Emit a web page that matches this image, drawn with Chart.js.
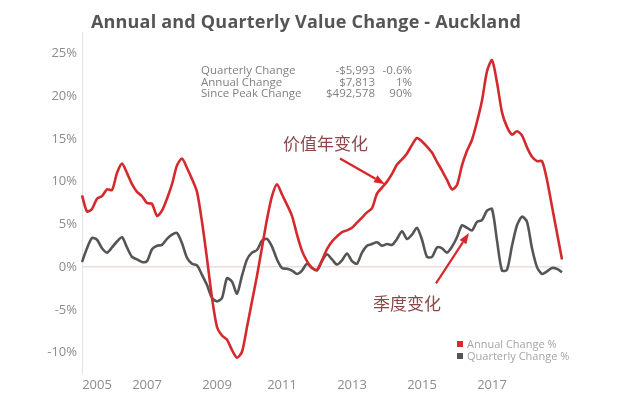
<!DOCTYPE html>
<html>
<head>
<meta charset="utf-8">
<script src="https://cdn.jsdelivr.net/npm/chart.js@4.4.1/dist/chart.umd.min.js"></script>
<style>
  body { margin: 0; background: #fff; }
  #wrap { position: relative; width: 640px; height: 412px; overflow: hidden; font-family: "Open Sans", sans-serif; }
  #title { position: absolute; left: 0; top: 9px; width: 612px; text-align: center; font-size: 18px; font-weight: 700; color: #555; letter-spacing: 0.2px; }
  #info { position: absolute; left: 201px; top: 64px; font-size: 11.5px; line-height: 11.7px; color: #808080; }
  #info .row { display: flex; }
  #info .c1 { width: 120px; }
  #info .c2 { width: 54px; text-align: right; }
  #info .c3 { width: 37px; text-align: right; }
  #legend { position: absolute; left: 457px; top: 338px; font-size: 11px; line-height: 11.5px; color: #a5a5a5; }
  #legend .sw { display: inline-block; width: 6px; height: 6px; margin-right: 4px; vertical-align: 1px; }
  .note { position: absolute; font-family: "Noto Sans CJK SC", sans-serif; font-size: 17px; line-height: 17px; color: #8a4848; }
</style>
</head>
<body>
<div id="wrap">
  <canvas id="chart" width="640" height="412"></canvas>
  <div id="title">Annual and Quarterly Value Change - Auckland</div>
  <div id="info">
    <div class="row"><span class="c1">Quarterly Change</span><span class="c2">-$5,993</span><span class="c3">-0.6%</span></div>
    <div class="row"><span class="c1">Annual Change</span><span class="c2">$7,813</span><span class="c3">1%</span></div>
    <div class="row"><span class="c1">Since Peak Change</span><span class="c2">$492,578</span><span class="c3">90%</span></div>
  </div>
  <div id="legend">
    <div><span class="sw" style="background:#d42a2e"></span>Annual Change %</div>
    <div><span class="sw" style="background:#555"></span>Quarterly Change %</div>
  </div>
  <div class="note" style="left:283px; top:134px;">价值年变化</div>
  <div class="note" style="left:373px; top:294px;">季度变化</div>
</div>
<script>
// 年份刻度（标在对应的样本序号上）
const yearTicks = ['2005', '2007', '2009', '2011', '2013', '2015', '2017'];
const yearTickAt = [3, 13, 27, 40, 54, 68, 82];

// 纵轴刻度 %
const yTicks = [-10, -5, 0, 5, 10, 15, 20, 25];

// 年度变化 %
const annualChange = [
    8.4, 6.5, 6.8, 8.0, 8.3, 9.1, 9.0, 11.0, 12.1, 11.0,
    9.7, 8.8, 8.3, 7.5, 7.4, 6.0, 6.6, 8.0, 9.7, 11.9,
    12.7, 11.6, 10.3, 8.8, 5.3, 1.0, -3.6, -7.0, -8.0, -8.5,
    -9.7, -10.6, -9.9, -7.0, -4.0, -1.0, 2.3, 5.6, 8.3, 9.7,
    8.5, 7.3, 6.0, 3.8, 1.9, 0.7, -0.1, -0.3, 0.8, 2.1,
    3.0, 3.6, 4.1, 4.3, 4.6, 5.2, 5.8, 6.4, 6.9, 8.6,
    9.3, 10.0, 10.9, 12.0, 12.6, 13.3, 14.3, 15.1, 14.7, 14.1,
    13.4, 12.3, 11.3, 10.2, 9.1, 9.6, 11.9, 13.6, 14.9, 17.0,
    19.5, 22.9, 24.2, 21.6, 18.1, 16.4, 15.5, 15.9, 15.4, 14.0,
    12.9, 12.4, 12.4, 10.2, 7.1, 4.0, 0.9
];

// 季度变化 %
const quarterlyChange = [
    0.6, 2.2, 3.4, 3.2, 2.2, 1.7, 2.3, 3.0, 3.5, 2.3,
    1.2, 0.9, 0.6, 0.7, 2.1, 2.5, 2.6, 3.3, 3.8, 4.0,
    2.8, 1.1, 0.4, 0.2, -0.9, -2.1, -3.6, -4.0, -3.6, -1.3,
    -1.7, -3.1, -1.0, 0.9, 1.7, 2.0, 3.1, 3.3, 2.4, 0.9,
    -0.1, -0.2, -0.4, -0.8, -0.4, 0.4, -0.1, -0.4, 0.7, 1.5,
    0.9, 0.3, 0.8, 1.6, 0.7, 0.4, 1.7, 2.5, 2.7, 2.9,
    2.5, 2.7, 2.6, 3.3, 4.2, 3.3, 3.8, 4.6, 3.2, 1.2,
    1.2, 2.3, 2.2, 1.7, 2.4, 3.5, 4.9, 4.6, 4.3, 5.3,
    5.5, 6.6, 6.8, 3.1, -0.4, -0.3, 2.5, 4.9, 5.9, 5.3,
    2.2, 0.0, -0.8, -0.5, -0.1, -0.2, -0.6
];

// 标注箭头：[尾部序号, 尾部值, 箭头序号, 箭头值]
const arrows = [
    [51.6, 12.7, 60.6, 9.7],
    [70.8, -1.9, 77.4, 4.0]
];

const labels = annualChange.map((_, i) => {
    const k = yearTickAt.indexOf(i);
    return k >= 0 ? yearTicks[k] : '';
});

// 画红色箭头
const arrowPlugin = {
    id: 'arrows',
    afterDatasetsDraw(chart) {
        const { ctx, scales: { x, y } } = chart;
        ctx.save();
        ctx.strokeStyle = '#d9262b';
        ctx.fillStyle = '#d9262b';
        ctx.lineWidth = 2.2;
        arrows.forEach(a => {
            const x0 = x.getPixelForValue(a[0]), y0 = y.getPixelForValue(a[1]);
            const x1 = x.getPixelForValue(a[2]), y1 = y.getPixelForValue(a[3]);
            const ang = Math.atan2(y1 - y0, x1 - x0);
            const len = 11, half = 4;
            const bx = x1 - Math.cos(ang) * len, by = y1 - Math.sin(ang) * len;
            ctx.beginPath();
            ctx.moveTo(x0, y0);
            ctx.lineTo(bx, by);
            ctx.stroke();
            ctx.beginPath();
            ctx.moveTo(x1, y1);
            ctx.lineTo(bx - Math.sin(ang) * half, by + Math.cos(ang) * half);
            ctx.lineTo(bx + Math.sin(ang) * half, by - Math.cos(ang) * half);
            ctx.closePath();
            ctx.fill();
        });
        ctx.restore();
    }
};

new Chart(document.getElementById('chart'), {
    type: 'line',
    data: {
        labels: labels,
        datasets: [
            {
                label: 'Annual Change %',
                data: annualChange,
                borderColor: '#d42a2e',
                borderWidth: 2.6,
                pointRadius: 0,
                tension: 0.25
            },
            {
                label: 'Quarterly Change %',
                data: quarterlyChange,
                borderColor: '#555555',
                borderWidth: 2.6,
                pointRadius: 0,
                tension: 0.25
            }
        ]
    },
    options: {
        responsive: false,
        animation: false,
        layout: { padding: { top: 32, right: 78, bottom: 16, left: 0 } },
        plugins: {
            legend: { display: false },
            tooltip: { enabled: false }
        },
        scales: {
            x: {
                grid: { display: false, drawTicks: false },
                border: { display: false },
                ticks: {
                    autoSkip: false,
                    maxRotation: 0,
                    padding: 3,
                    color: '#8c8c8c',
                    font: { family: 'Open Sans', size: 13 }
                },
                afterFit: s => { s.height = 22; }
            },
            y: {
                min: -12.5,
                max: 27.5,
                afterBuildTicks: s => { s.ticks = yTicks.map(v => ({ value: v })); },
                grid: {
                    drawTicks: false,
                    color: c => (c.tick && c.tick.value === 0 ? '#eadede' : 'rgba(0,0,0,0)'),
                    lineWidth: 1.5
                },
                border: { display: true, color: '#e2e2e2', width: 1 },
                ticks: {
                    padding: 5,
                    color: '#8c8c8c',
                    font: { family: 'Open Sans', size: 13 },
                    callback: v => v + '%'
                },
                afterFit: s => { s.width = 82; }
            }
        }
    },
    plugins: [arrowPlugin]
});
</script>
</body>
</html>
